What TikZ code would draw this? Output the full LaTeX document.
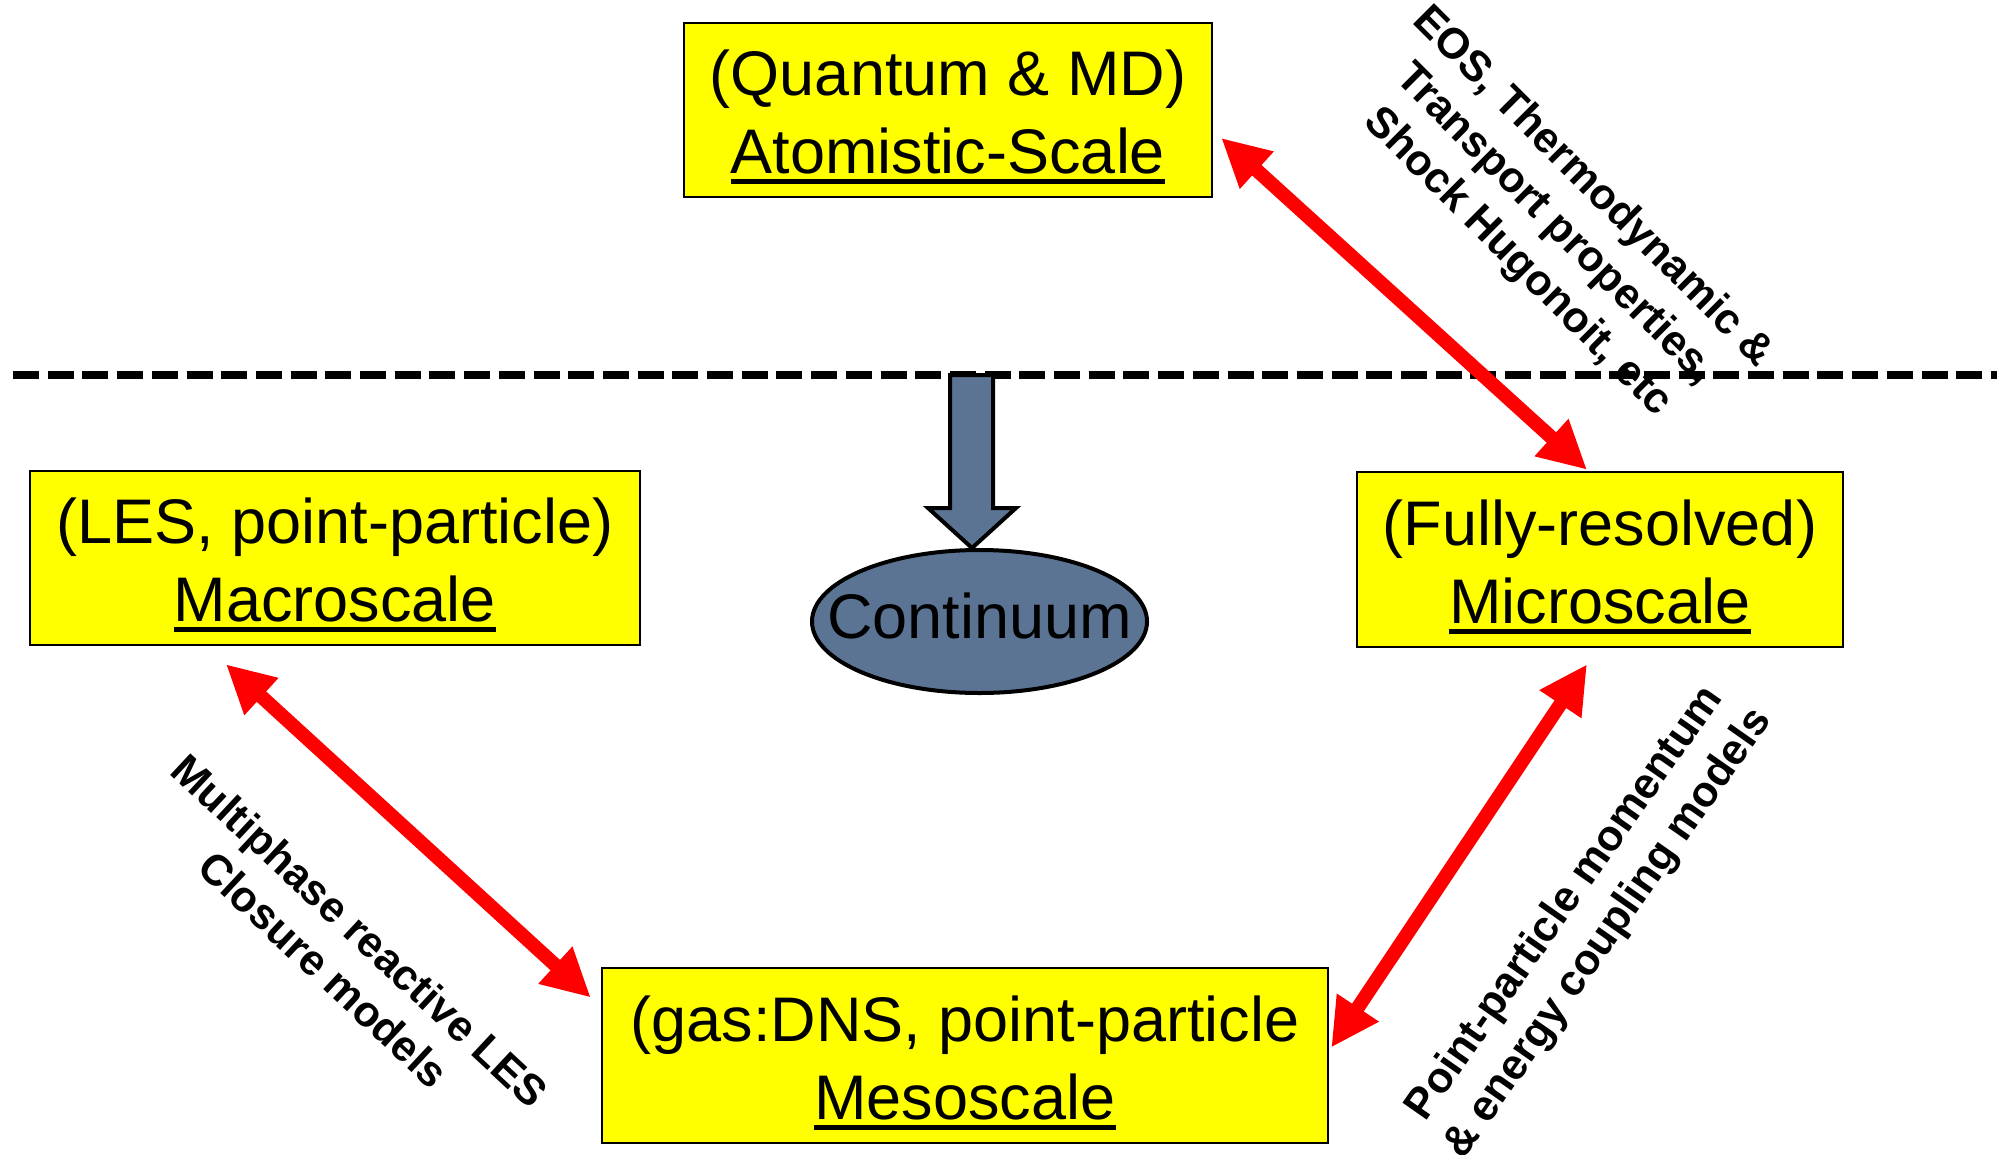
\documentclass[tikz,border=0pt]{standalone}
\usepackage{fontspec}
\setmainfont{Liberation Sans}
\usetikzlibrary{arrows.meta,shapes.geometric,calc}
\definecolor{boxyellow}{RGB}{255,255,0}
\definecolor{arrowred}{RGB}{255,0,0}
\definecolor{contblue}{RGB}{92,116,148}
\newcommand{\ulword}[1]{\setbox0\hbox{#1}\rlap{\rule[-10.5pt]{\wd0}{5pt}}\box0}
\newcommand{\firststrut}{\rule{0pt}{60pt}}
\tikzset{
  scalebox/.style={draw=black, line width=2.5pt, fill=boxyellow, inner sep=0pt,
    align=center, font=\fontsize{63pt}{78pt}\selectfont},
  linkarrow/.style={draw=arrowred, line width=14pt,
    {Triangle[length=48pt,width=47pt]}-{Triangle[length=48pt,width=47pt]}},
  linklabel/.style={align=center, inner sep=0pt,
    font=\fontsize{43pt}{53pt}\selectfont\bfseries},
  divider/.style={draw=black, line width=8.7pt, dash pattern=on 26pt off 8.7pt},
  blockarrow/.style={draw=black, line width=4pt, fill=contblue, line join=miter},
}
\begin{document}
\begin{tikzpicture}[x=1pt,y=-1pt]
\useasboundingbox (0,0) rectangle (2007,1154);

% divider line
\coordinate (divL) at (13,375);
\coordinate (divR) at (1997,375);
\draw[divider] (divL) -- (divR);

% continuum ellipse
\node[ellipse, draw=black, line width=4pt, fill=contblue, minimum width=335pt,
  minimum height=143pt, inner sep=0pt] (cont) at (979.5,621.5) {};
\node[inner sep=0pt, font=\fontsize{63pt}{78pt}\selectfont] (conttext) at (cont.center)
  {Continuum\rule[-12pt]{0pt}{12pt}};

% block arrow down to continuum
\draw[blockarrow] (950,375) -- (950,508) -- (928,508) -- (972,548)
  -- (1016,508) -- (993,508) -- (993,375) -- cycle;

% boxes
\node[scalebox, minimum width=528pt, minimum height=174pt] (atom) at (948,110)
  {\firststrut(Quantum \& MD)\\\ulword{Atomistic-Scale}};
\node[scalebox, minimum width=486pt, minimum height=175pt] (micro) at (1600,559.5)
  {\firststrut(Fully-resolved)\\\ulword{Microscale}};
\node[scalebox, minimum width=610pt, minimum height=174pt] (macro) at (335,558)
  {\firststrut(LES, point-particle)\\\ulword{Macroscale}};
\node[scalebox, minimum width=726pt, minimum height=175pt] (meso) at (965,1055.5)
  {\firststrut(gas:DNS, point-particle\\\ulword{Mesoscale}};

% link arrows
\coordinate (a1) at ($(atom.east)+(8,28)$);
\coordinate (a2) at ($(micro.north)+(-13,-1)$);
\draw[linkarrow] (a1) -- (a2);
\coordinate (b1) at ($(macro.south)+(-109,18)$);
\coordinate (b2) at ($(meso.west)+(-10,-58)$);
\draw[linkarrow] (b1) -- (b2);
\coordinate (c1) at ($(micro.south)+(-13,16)$);
\coordinate (c2) at ($(meso.east)+(2,-8)$);
\draw[linkarrow] (c1) -- (c2);

% link labels
\node[linklabel, rotate=-45] (la) at (1555,225)
  {EOS, Thermodynamic \&\\Transport properties,\\Shock Hugonoit, etc};
\node[linklabel, rotate=-43] (lb) at (342,950)
  {Multiphase reactive LES\\Closure models};
\node[linklabel, rotate=55] (lc) at (1587,919)
  {Point-particle momentum\\\& energy coupling models};
\end{tikzpicture}
\end{document}
